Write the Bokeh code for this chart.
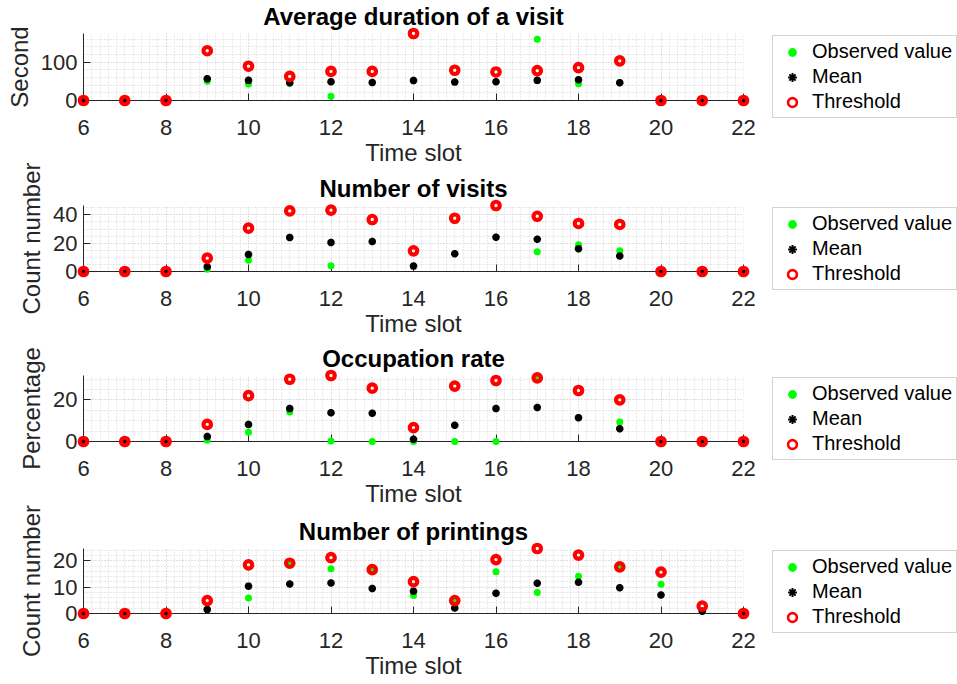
import numpy as np
from bokeh.plotting import figure
from bokeh.models import ColumnDataSource, FixedTicker, Range1d, Legend, LegendItem
from bokeh.layouts import column
from bokeh.embed import file_html
from bokeh.resources import INLINE

nan = float("nan")

# ---------------- data ----------------
time_slots = [6, 7, 8, 9, 10, 11, 12, 13, 14, 15, 16, 17, 18, 19, 20, 21, 22]
x_ticks = [6, 8, 10, 12, 14, 16, 18, 20, 22]

titles = ["Average duration of a visit", "Number of visits",
          "Occupation rate", "Number of printings"]
y_labels = ["Second", "Count number", "Percentage", "Count number"]
legend_labels = ["Observed value", "Mean", "Threshold"]

duration_observed = [0, 0, 0, 50, 43, 45, 11.4, nan, nan, nan, nan, 160, 44, 46.5, 0, 0, 0]
duration_mean = [0, 0, 0, 57, 52.6, 46.5, 49, 47, 52, 48, 49, 52.6, 54, 46.5, 0, 0, 0]
duration_threshold = [0, 0, 0, 130, 89.5, 63, 76, 76, 175, 79, 74.5, 78, 86, 103.5, 0, 0, 0]

visits_observed = [0, 0, 0, 1.6, 8, 24, 4, nan, nan, nan, nan, 14, 18.8, 14.6, 0, 0, 0]
visits_mean = [0, 0, 0, 3.3, 12, 24, 20.5, 21.2, 3.8, 12.5, 24.2, 22.8, 16, 11, 0, 0, 0]
visits_threshold = [0, 0, 0, 9.4, 30.6, 42.8, 43.3, 36.7, 14.6, 37.6, 46.6, 39, 33.9, 33.2, 0, 0, 0]

occupation_observed = [0, 0, 0, 0.6, 4.5, 14.2, 0.2, 0, 0, 0, 0, 30.6, 11.4, 9.4, 0, 0, 0]
occupation_mean = [0, 0, 0, 2.4, 8.2, 15.8, 13.8, 13.6, 1.1, 7.8, 15.8, 16.3, 11.4, 6.1, 0, 0, 0]
occupation_threshold = [0, 0, 0, 8.2, 22, 29.9, 31.7, 25.6, 6.7, 26.6, 29.3, 30.6, 24.5, 20, 0, 0, 0]

printings_observed = [0, 0, 0, 1.5, 5.9, 19.1, 17, 17.5, 6.8, 4.9, 15.9, 8, 14.2, 17.7, 11.1, 0.9, 0]
printings_mean = [0, 0, 0, 1.5, 10.4, 11.2, 11.6, 9.5, 8.5, 2.1, 7.7, 11.5, 11.9, 9.8, 7, 0.9, 0]
printings_threshold = [0, 0, 0, 4.9, 18.5, 19.1, 21.2, 16.7, 12.1, 4.9, 20.5, 24.7, 22.2, 17.7, 15.7, 2.8, 0]

y_major_ticks = [[0, 100], [0, 20, 40], [0, 20], [0, 10, 20]]
y_minor_steps = [20, 5, 5, 2]

series = [
    (duration_observed, duration_mean, duration_threshold),
    (visits_observed, visits_mean, visits_threshold),
    (occupation_observed, occupation_mean, occupation_threshold),
    (printings_observed, printings_mean, printings_threshold),
]

# ---------------- layout ----------------
FONT = "Liberation Sans"
AX = "#262626"
frame_tops = [33, 205, 375, 548]      # target screen y of each plot frame's top
frames = [67, 66, 66, 65]             # frame heights
TOP = 50
bottoms = [75, 75, 75, 70]
LEG_H = 85

plots = []
prev_bottom = 0
for i in range(4):
    obs, mean, thr = series[i]
    ymax = float(np.nanmax(thr))
    fh = frames[i]
    canvas_top = frame_tops[i] - TOP
    m_top = canvas_top - prev_bottom
    canvas_h = TOP + fh + bottoms[i]
    m_bottom = -9 if i == 3 else 0
    prev_bottom = canvas_top + canvas_h
    p = figure(frame_width=660, frame_height=fh, x_range=Range1d(6, 22), y_range=Range1d(0, ymax),
               output_backend="svg", toolbar_location=None,
               min_border_left=83, min_border_right=213,
               min_border_top=TOP, min_border_bottom=bottoms[i],
               margin=(m_top, 0, m_bottom, 0))
    p.outline_line_color = None
    p.background_fill_color = None
    p.border_fill_color = None

    p.title.text = titles[i]
    p.title.align = "center"
    p.title.text_font = FONT
    p.title.text_font_size = "24px"
    p.title.text_font_style = "bold"
    p.title.text_color = "black"
    p.title.standoff = 7

    p.xaxis.ticker = FixedTicker(ticks=x_ticks, minor_ticks=list(np.arange(6, 22.001, 0.2)))
    st = y_minor_steps[i]
    p.yaxis.ticker = FixedTicker(ticks=y_major_ticks[i],
                                 minor_ticks=list(np.arange(0, ymax + st, st)))

    for ax in (p.xaxis[0], p.yaxis[0]):
        ax.axis_line_color = AX
        ax.major_tick_line_color = AX
        ax.major_tick_in = 7
        ax.major_tick_out = 0
        ax.minor_tick_in = 0
        ax.minor_tick_out = 0
        ax.major_label_text_font = FONT
        ax.major_label_text_font_size = "22px"
        ax.major_label_text_color = AX
        ax.axis_label_text_font = FONT
        ax.axis_label_text_font_size = "24px"
        ax.axis_label_text_font_style = "normal"
        ax.axis_label_text_color = AX
    p.xaxis.axis_label = "Time slot"
    p.xaxis.major_label_standoff = 19
    p.xaxis.axis_label_standoff = 1
    p.yaxis.axis_label = y_labels[i]
    p.yaxis.major_label_standoff = 6
    p.yaxis.axis_label_standoff = 5

    for g in (p.xgrid[0], p.ygrid[0]):
        g.grid_line_color = "#d4d4d4"
        g.grid_line_dash = "1 2"
        g.minor_grid_line_color = "#d4d4d4"
        g.minor_grid_line_dash = "1 2"

    src = ColumnDataSource(dict(x=time_slots, obs=obs, mean=mean, thr=thr))
    p.scatter("x", "obs", source=src, marker="circle", size=7,
              fill_color="#00ff00", line_color=None, level="overlay")
    p.scatter("x", "mean", source=src, marker="asterisk", size=7.5,
              line_color="black", line_width=2.5, level="overlay")
    p.scatter("x", "thr", source=src, marker="circle", size=7.5,
              fill_color=None, line_color="#ff0000", line_width=4.2, level="overlay")

    # legend keys: same markers, drawn smaller (as MATLAB does in its legend box)
    key_src = ColumnDataSource(dict(x=[nan], y=[nan]))
    k_obs = p.scatter("x", "y", source=key_src, marker="circle", size=5,
                      fill_color="#00ff00", line_color=None)
    k_mean = p.scatter("x", "y", source=key_src, marker="asterisk", size=5,
                       line_color="black", line_width=2)
    k_thr = p.scatter("x", "y", source=key_src, marker="circle", size=5,
                      fill_color=None, line_color="#ff0000", line_width=2.6)

    legend = Legend(items=[LegendItem(label=legend_labels[0], renderers=[k_obs]),
                           LegendItem(label=legend_labels[1], renderers=[k_mean]),
                           LegendItem(label=legend_labels[2], renderers=[k_thr])],
                    location=(29, fh - LEG_H))
    legend.label_text_font = FONT
    legend.label_text_font_size = "20px"
    legend.label_text_color = "black"
    legend.label_height = 22
    legend.glyph_height = 22
    legend.glyph_width = 30
    legend.spacing = 2
    legend.padding = 4
    legend.margin = 0
    legend.label_standoff = 5
    legend.border_line_color = "#a6a6a6"
    legend.background_fill_color = "white"
    legend.background_fill_alpha = 1
    p.add_layout(legend, "right")
    plots.append(p)

layout = column(*plots, spacing=0)
open("out.html", "w").write(file_html(layout, INLINE))
